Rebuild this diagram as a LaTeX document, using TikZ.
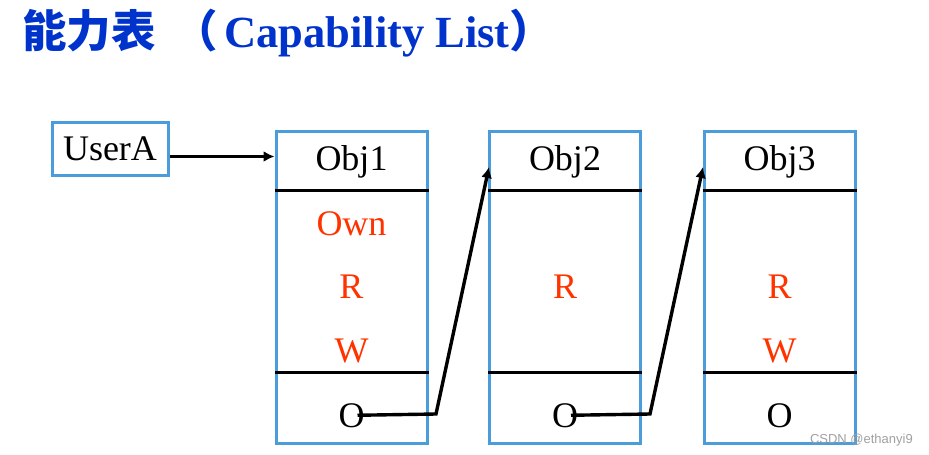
\documentclass[tikz,border=0pt]{standalone}
\usepackage{fontspec}
\setmainfont{Liberation Serif}
\newfontfamily\cjkfont{Noto Sans CJK SC}
\newfontfamily\markfont{Liberation Sans}
\usetikzlibrary{arrows.meta, positioning}
\definecolor{myblue}{RGB}{74,157,218}
\definecolor{titleblue}{RGB}{0,51,204}
\definecolor{myred}{RGB}{255,51,0}
\definecolor{markgray}{RGB}{160,160,160}

\begin{document}
\begin{tikzpicture}[x=1pt, y=-1pt,
  frame/.style={draw=myblue, line width=3pt, inner sep=0pt},
  objbox/.style={frame, minimum width=151pt, minimum height=312pt},
  divider/.style={line width=3pt, black},
  txt/.style={font=\fontsize{36}{36}\selectfont, inner sep=0pt, anchor=base},
  right/.style={txt, text=myred},
  link/.style={line width=3.4pt, -{Latex[length=11pt, width=11pt]}}
]
\useasboundingbox (0,0) rectangle (929,455);

\node[anchor=base west, inner sep=0pt, text=titleblue,
  font=\fontsize{44.5}{44.5}\selectfont\bfseries] (title) at (22,47)
  {{\cjkfont 能力表\hspace{18pt}（}\hspace{6pt}Capability List{\cjkfont ）}};

\node[frame, minimum width=116pt, minimum height=53pt, font=\fontsize{36}{36}\selectfont] (usera) at (110,148.5) {UserA};

\foreach \i/\x in {1/351.5, 2/565, 3/779.5}{
  \node[objbox] (box\i) at (\x,287) {};
  \draw[divider] ([yshift=-61pt]box\i.north west) -- ([yshift=-61pt]box\i.north east);
  \draw[divider] ([yshift=72pt]box\i.south west) -- ([yshift=72pt]box\i.south east);
  \node[txt] (head\i) at (\x,170) {Obj\i};
  \node[txt] (ptr\i) at (\x,427) {O};
}

\node[right] (own1) at (351.5,235) {Own};
\node[right] (r1) at (351.5,298) {R};
\node[right] (w1) at (351.5,362) {W};
\node[right] (r2) at (565,298) {R};
\node[right] (r3) at (779.5,298) {R};
\node[right] (w3) at (779.5,362) {W};

\draw[link] ([yshift=-8pt]usera.east) -- ([yshift=-8pt]usera.east -| box1.west);

\coordinate (bend1) at (436,414);
\coordinate (in2) at (489,167);
\draw[link] ([xshift=6pt]ptr1.center) -- (bend1) -- (in2);

\coordinate (bend2) at (650,414);
\coordinate (in3) at (703,167);
\draw[link] ([xshift=6pt]ptr2.center) -- (bend2) -- (in3);

\node[anchor=base east, inner sep=0pt, text=markgray,
  font=\markfont\fontsize{13}{13}\selectfont] (mark) at (913,443) {CSDN @ethanyi9};
\end{tikzpicture}
\end{document}
